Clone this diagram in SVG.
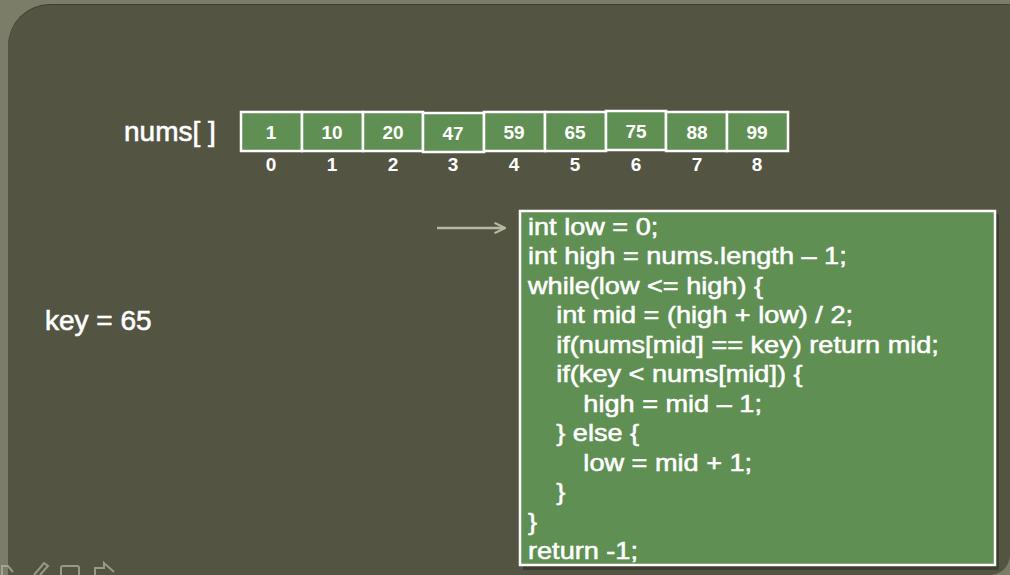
<svg xmlns="http://www.w3.org/2000/svg" width="1010" height="575" viewBox="0 0 1010 575">
  <defs>
    <style>
      .cell { fill: #5f8f53; stroke: #ffffff; stroke-width: 2.5; }
      .val { font-family: "Liberation Sans", Arial, sans-serif; font-weight: bold; font-size: 19px; fill: #ffffff; text-anchor: middle; }
      .idx { font-family: "Liberation Sans", Arial, sans-serif; font-weight: bold; font-size: 19px; fill: #ffffff; text-anchor: middle; }
      .label { font-family: "Liberation Sans", Arial, sans-serif; font-size: 28px; fill: #ffffff; stroke: #ffffff; stroke-width: 0.6; }
      .code { font-family: "Liberation Sans", Arial, sans-serif; font-size: 24px; fill: #ffffff; stroke: #ffffff; stroke-width: 0.55; }
      .conn { stroke: #b9b9a2; stroke-width: 2.5; fill: none; }
      .icon { fill: none; stroke: #b5b7a3; stroke-width: 2; opacity: 0.7; }
    </style>
    <marker id="arrow" viewBox="0 0 12 12" refX="11" refY="6" markerWidth="5" markerHeight="5" orient="auto" markerUnits="strokeWidth">
      <path d="M1,1 L11,6 L1,11" fill="none" stroke="#b9b9a2" stroke-width="2"/>
    </marker>
  </defs>

  <!-- background -->
  <rect x="0" y="0" width="1010" height="575" fill="#7b7d69"/>
  <rect x="8" y="4" width="1040" height="620" rx="42" ry="42" fill="#3f3f33"/>
  <rect x="8" y="5" width="1040" height="620" rx="42" ry="42" fill="#545443"/>
  <path d="M1010,556 Q1008,572 992,575 L1010,575 Z" fill="#7b7d69"/>

  <!-- array nums[] -->
  <g id="nums-label">
    <text class="label" x="124" y="141">nums[ ]</text>
  </g>
  <g id="array">
    <rect class="cell" x="241" y="112" width="61" height="39"/>
    <rect class="cell" x="302" y="112" width="61" height="39"/>
    <rect class="cell" x="363" y="112" width="60" height="39"/>
    <rect class="cell" x="423" y="113" width="61" height="39"/>
    <rect class="cell" x="484" y="112" width="61" height="39"/>
    <rect class="cell" x="545" y="112" width="61" height="39"/>
    <rect class="cell" x="606" y="111" width="60" height="39"/>
    <rect class="cell" x="666" y="112" width="61" height="39"/>
    <rect class="cell" x="727" y="112" width="61" height="39"/>
    <text class="val" x="271" y="139">1</text>
    <text class="val" x="332" y="139">10</text>
    <text class="val" x="393" y="139">20</text>
    <text class="val" x="453" y="140">47</text>
    <text class="val" x="514" y="139">59</text>
    <text class="val" x="575" y="139">65</text>
    <text class="val" x="636" y="138">75</text>
    <text class="val" x="697" y="139">88</text>
    <text class="val" x="757" y="139">99</text>
    <text class="idx" x="271" y="171">0</text>
    <text class="idx" x="332" y="171">1</text>
    <text class="idx" x="393" y="171">2</text>
    <text class="idx" x="453" y="171">3</text>
    <text class="idx" x="514" y="171">4</text>
    <text class="idx" x="575" y="171">5</text>
    <text class="idx" x="636" y="171">6</text>
    <text class="idx" x="697" y="171">7</text>
    <text class="idx" x="757" y="171">8</text>
  </g>

  <g id="key-label">
    <text class="label" x="45" y="330">key = 65</text>
  </g>

  <!-- connectors -->
  <g id="connectors">
    <line class="conn" x1="437" y1="228" x2="505" y2="228" marker-end="url(#arrow)"/>
  </g>

  <!-- code box -->
  <g id="code-box">
    <rect x="523" y="214" width="476" height="356" fill="#2f2f25" opacity="0.6"/>
    <rect x="520" y="211" width="475" height="354" fill="#5f8f53" stroke="#ffffff" stroke-width="2.5"/>
    <g transform="translate(528,0) scale(1.13,1)">
      <text class="code" x="0" y="235">int low = 0;</text>
      <text class="code" x="0" y="264.5">int high = nums.length – 1;</text>
      <text class="code" x="0" y="294">while(low &lt;= high) {</text>
      <text class="code" x="25" y="323.5">int mid = (high + low) / 2;</text>
      <text class="code" x="25" y="353">if(nums[mid] == key) return mid;</text>
      <text class="code" x="25" y="382.5">if(key &lt; nums[mid]) {</text>
      <text class="code" x="49" y="412">high = mid – 1;</text>
      <text class="code" x="25" y="441.5">} else {</text>
      <text class="code" x="49" y="471">low = mid + 1;</text>
      <text class="code" x="25" y="500.5">}</text>
      <text class="code" x="0" y="530">}</text>
      <text class="code" x="0" y="559">return -1;</text>
    </g>
  </g>

  <!-- slide toolbar icons (partially visible) -->
  <g id="toolbar">
    <path class="icon" d="M2,575 L2,566 L8,566 L13,572"/>
    <path class="icon" d="M34,575 L44,563 L48,566 L40,575"/>
    <rect class="icon" x="61" y="566" width="18" height="12" rx="2"/>
    <path class="icon" d="M95,575 L95,568 L104,568 L104,563 L114,572"/>
  </g>
</svg>
